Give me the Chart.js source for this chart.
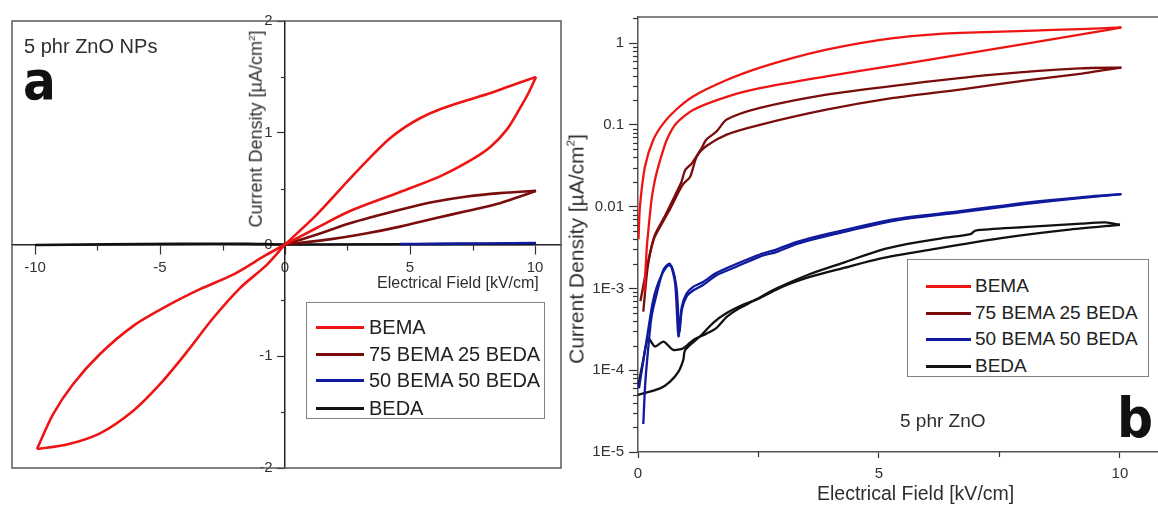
<!DOCTYPE html>
<html><head><meta charset="utf-8">
<script src="https://cdn.jsdelivr.net/npm/chart.js@4.4.1/dist/chart.umd.min.js"></script>
<style>
body{margin:0;background:#fff}
#wrap{position:relative;width:1158px;height:506px;overflow:hidden;background:#fff;font-family:"Liberation Sans",Arial,sans-serif;color:#2e2e2e}
canvas{position:absolute;top:0}
.t{position:absolute;white-space:nowrap;line-height:1}
.big{font-family:"Liberation Sans Narrow","DejaVu Sans Condensed","Arial Narrow",sans-serif;font-weight:bold;font-stretch:condensed;color:#111}
.rot{position:absolute;white-space:nowrap;line-height:1;transform:translate(-50%,-50%) rotate(-90deg)}
.leg{position:absolute;border:1px solid #808080;background:#fff;box-sizing:border-box}
.row{position:absolute;height:20px;line-height:20px;white-space:nowrap;color:#222}
.sw{position:absolute;height:3px}
sup{font-size:55%;vertical-align:0.75em}
</style></head><body>
<div id="wrap">
<canvas id="ca" width="580" height="506" style="left:0"></canvas>
<canvas id="cb" width="578" height="506" style="left:580px"></canvas>
<div class="t" style="left:24px;top:36px;font-size:20px">5 phr ZnO NPs</div>
<div class="t big" style="left:23px;top:54px;font-size:54px">a</div>
<div class="rot" style="left:255.5px;top:129px;font-size:18px">Current Density [µA/cm<sup>2</sup>]</div>
<div class="t" style="left:377px;top:275px;font-size:16px">Electrical Field [kV/cm]</div>
<div class="leg" id="legA" style="left:306px;top:302px;width:239px;height:117px"></div>
<div class="rot" style="left:576px;top:249px;font-size:21px">Current Density [µA/cm<sup>2</sup>]</div>
<div class="t" style="left:817px;top:483.5px;font-size:19.5px">Electrical Field [kV/cm]</div>
<div class="t" style="left:900px;top:410.5px;font-size:19px">5 phr ZnO</div>
<div class="t big" style="left:1117px;top:390px;font-size:56px">b</div>
<div class="leg" id="legB" style="left:907px;top:259px;width:242px;height:118px"></div>
</div>
<script>
// ---------- series / legend ----------
const seriesNames = ['BEMA', '75 BEMA 25 BEDA', '50 BEMA 50 BEDA', 'BEDA'];
const seriesColors = ['#ee1414', '#7a0c0c', '#0f1a9c', '#111111'];

// ---------- panel a : linear J-E loops ----------
const aXTicks = [-10, -5, 0, 5, 10];
const aXTickLabels = ['-10', '-5', '0', '5', '10'];
const aYTicks = [-2, -1, 0, 1, 2];
const aYTickLabels = ['-2', '-1', '0', '1', '2'];
const aXMinor = [-7.5, -2.5, 2.5, 7.5];
const aYMinor = [-1.5, -0.5, 0.5, 1.5];

const aBemaOutE = [0, 1.28, 2.6, 3.5, 4.2, 4.8, 5.4, 6.2, 7.28, 8.4, 9.4, 10.04];
const aBemaOutJ = [0, 0.27, 0.59, 0.80, 0.95, 1.05, 1.13, 1.21, 1.29, 1.37, 1.45, 1.50];
const aBemaRetE = [10.04, 9.75, 9.4, 8.88, 8.2, 7.4, 6.2, 4.6, 2.6, 1.28, 0];
const aBemaRetJ = [1.50, 1.36, 1.22, 1.03, 0.87, 0.75, 0.61, 0.47, 0.30, 0.15, 0];
const aBemaNegOutE = [0, -0.8, -2.08, -3.4, -4.72, -6.08, -7.4, -8.48, -9.28, -9.92];
const aBemaNegOutJ = [0, -0.10, -0.27, -0.40, -0.55, -0.73, -0.98, -1.25, -1.52, -1.83];
const aBemaNegRetE = [-9.92, -8.72, -7.4, -6.08, -5.0, -3.92, -2.88, -1.8, -0.72, 0];
const aBemaNegRetJ = [-1.83, -1.79, -1.69, -1.49, -1.25, -0.96, -0.66, -0.39, -0.18, 0];
const a7525OutE = [0, 1.28, 2.6, 4.6, 5.92, 7.28, 8.6, 10.04];
const a7525OutJ = [0, 0.09, 0.19, 0.31, 0.38, 0.43, 0.46, 0.48];
const a7525RetE = [10.04, 9.4, 8.6, 7.28, 5.92, 4.6, 3.28, 1.92, 0];
const a7525RetJ = [0.48, 0.43, 0.37, 0.30, 0.23, 0.16, 0.10, 0.05, 0];
const a5050E = [4.6, 6.0, 8.0, 10.04];
const a5050J = [0.004, 0.006, 0.009, 0.014];
const aBedaE = [-10, -4.2, -1.5, 0, 10];
const aBedaJ = [-0.004, 0.006, 0.006, 0, 0.006];

// ---------- panel b : log J-E ----------
const bXTicks = [0, 5, 10];
const bXTickLabels = ['0', '5', '10'];
const bXMinor = [2.5, 7.5];
const bYTicks = [1e-5, 1e-4, 1e-3, 0.01, 0.1, 1];
const bYTickLabels = ['1E-5', '1E-4', '1E-3', '0.01', '0.1', '1'];

const bBemaUpE = [0.01, 0.04, 0.145, 0.32, 0.53, 0.80, 1.15, 1.84, 2.53, 3.22, 3.91, 4.61, 5.3, 6.0, 6.68, 8.06, 9.17, 10.03];
const bBemaUpJ = [0.004, 0.01, 0.031, 0.066, 0.105, 0.155, 0.224, 0.353, 0.50, 0.66, 0.83, 1.0, 1.15, 1.26, 1.33, 1.41, 1.48, 1.55];
const bBemaLoE = [0.13, 0.18, 0.21, 0.28, 0.35, 0.46, 0.6, 0.8, 1.15, 1.84, 2.53, 3.91, 5.3, 6.68, 8.06, 9.17, 9.6, 10.03];
const bBemaLoJ = [0.0009, 0.003, 0.0048, 0.012, 0.021, 0.037, 0.066, 0.105, 0.153, 0.22, 0.28, 0.39, 0.53, 0.72, 0.98, 1.27, 1.40, 1.55];
const b7525AE = [0.05, 0.2, 0.35, 0.55, 0.75, 0.9, 0.98, 1.1, 1.2, 1.32, 1.42, 1.63, 1.84, 2.53, 3.91, 5.3, 7.37, 9.17, 10.03];
const b7525AJ = [0.0007, 0.002, 0.0045, 0.0075, 0.013, 0.02, 0.028, 0.033, 0.04, 0.052, 0.066, 0.083, 0.116, 0.161, 0.234, 0.30, 0.41, 0.49, 0.50];
const b7525BE = [0.11, 0.2, 0.32, 0.46, 0.66, 0.84, 0.94, 1.08, 1.22, 1.42, 1.84, 2.53, 3.91, 5.3, 6.68, 8.06, 9.17, 9.6, 10.03];
const b7525BJ = [0.00052, 0.0018, 0.0039, 0.0057, 0.0092, 0.015, 0.019, 0.023, 0.041, 0.055, 0.076, 0.10, 0.153, 0.213, 0.27, 0.35, 0.42, 0.46, 0.50];
const b5050FE = [0.11, 0.15, 0.21, 0.28, 0.39, 0.53, 0.66, 0.77, 0.84, 0.91, 1.01, 1.15, 1.35, 1.63, 2.05, 2.53, 2.88, 3.3, 3.91, 5.3, 6.68, 8.06, 9.17, 10.03];
const b5050FJ = [2.2e-5, 6.9e-5, 1.8e-4, 4.5e-4, 8.7e-4, 1.7e-3, 2.0e-3, 1.16e-3, 2.6e-4, 6.0e-4, 8.7e-4, 1.05e-3, 1.2e-3, 1.55e-3, 2.0e-3, 2.6e-3, 3.0e-3, 3.7e-3, 4.6e-3, 7.0e-3, 8.8e-3, 1.12e-2, 1.3e-2, 1.42e-2];
const b5050RE = [10.03, 9.17, 8.06, 6.68, 5.3, 3.91, 3.3, 2.88, 2.53, 2.05, 1.63, 1.35, 1.15, 1.01, 0.91, 0.86, 0.8, 0.7, 0.62, 0.5, 0.38, 0.3, 0.2, 0.1, 0.02];
const b5050RJ = [1.42e-2, 1.27e-2, 1.08e-2, 8.5e-3, 6.7e-3, 4.35e-3, 3.5e-3, 2.8e-3, 2.45e-3, 1.85e-3, 1.45e-3, 1.1e-3, 9.5e-4, 8.0e-4, 5.5e-4, 3.0e-4, 1.0e-3, 1.85e-3, 1.9e-3, 1.5e-3, 1.0e-3, 6.5e-4, 2.8e-4, 1.2e-4, 6e-5];
const bBedaLE = [0.0, 0.46, 0.66, 0.84, 0.94, 0.98, 1.29, 1.56, 1.84, 2.2, 2.5, 3.0, 3.6, 4.3, 5.0, 6.1, 7.5, 8.9, 10.0];
const bBedaLJ = [5.0e-5, 6.0e-5, 7.2e-5, 9.6e-5, 1.34e-4, 1.77e-4, 2.6e-4, 3.8e-4, 5.0e-4, 6.4e-4, 7.5e-4, 1.05e-3, 1.4e-3, 1.8e-3, 2.3e-3, 3.0e-3, 4.1e-3, 5.2e-3, 6.0e-3];
const bBedaUE = [0.0, 0.11, 0.21, 0.35, 0.53, 0.73, 0.94, 1.15, 1.42, 1.63, 1.84, 2.05, 2.39, 2.88, 3.57, 4.3, 5.0, 5.6, 6.3, 6.9, 7.0, 8.0, 9.2, 9.7, 10.0];
const bBedaUJ = [6.3e-5, 1.34e-4, 2.46e-4, 1.95e-4, 2.24e-4, 1.77e-4, 1.86e-4, 2.35e-4, 2.8e-4, 3.3e-4, 4.5e-4, 5.5e-4, 7.0e-4, 1.0e-3, 1.5e-3, 2.1e-3, 2.9e-3, 3.5e-3, 4.1e-3, 4.6e-3, 5.1e-3, 5.6e-3, 6.2e-3, 6.4e-3, 6.0e-3];

// ---------- helpers ----------
function branch(E, J, s, w, t) {
  return { data: E.map((e, i) => ({ x: e, y: J[i] })), showLine: true, borderColor: seriesColors[s],
    backgroundColor: seriesColors[s], borderWidth: w, pointRadius: 0, tension: t, fill: false };
}
const decor = {
  id: 'decor',
  beforeDatasetsDraw(chart, args, o) {
    const { ctx, chartArea: ca } = chart;
    ctx.save();
    ctx.strokeStyle = '#5a5a5a'; ctx.lineWidth = 1.5;
    if (o.box) ctx.strokeRect(ca.left, ca.top, ca.right - ca.left, ca.bottom - ca.top);
    if (o.topLine) { ctx.beginPath(); ctx.moveTo(ca.left, ca.top); ctx.lineTo(ca.right, ca.top); ctx.stroke(); }
    ctx.restore();
  },
  afterDraw(chart, args, o) {
    const { ctx, chartArea: ca, scales } = chart;
    const xs = scales.x, ys = scales.y;
    const x0 = o.yAt != null ? xs.getPixelForValue(o.yAt) : ca.left;
    const y0 = o.xAt != null ? ys.getPixelForValue(o.xAt) : ca.bottom;
    ctx.save(); ctx.strokeStyle = '#333'; ctx.lineWidth = 1.2;
    for (const v of o.xMinor) { const p = Math.round(xs.getPixelForValue(v)) + 0.5; ctx.beginPath(); ctx.moveTo(p, y0); ctx.lineTo(p, y0 + o.xLen); ctx.stroke(); }
    for (const v of o.yMinor) { const p = Math.round(ys.getPixelForValue(v)) + 0.5; ctx.beginPath(); ctx.moveTo(x0, p); ctx.lineTo(x0 - o.yLen, p); ctx.stroke(); }
    ctx.restore();
  }
};
function legend(id, rows, lineL, lineW, textL, fs) {
  const el = document.getElementById(id);
  seriesNames.forEach((n, i) => {
    const r = document.createElement('div'); r.className = 'row';
    r.style.top = (rows[i] - 10) + 'px'; r.style.left = '0px'; r.style.width = '100%';
    r.innerHTML = '<div class="sw" style="left:' + lineL + 'px;width:' + lineW + 'px;top:8.5px;background:' + seriesColors[i] + '"></div>' +
      '<span style="position:absolute;left:' + textL + 'px;font-size:' + fs + 'px">' + n + '</span>';
    el.appendChild(r);
  });
}
legend('legA', [24, 51, 77, 105], 9, 48, 62, 20);
legend('legB', [26, 53, 79, 106], 18, 45, 67, 19);

Chart.defaults.font.family = '"Liberation Sans", Arial, sans-serif';
Chart.defaults.color = '#333';

// ---------- chart a ----------
new Chart(document.getElementById('ca'), {
  type: 'scatter',
  data: { datasets: [
    branch(aBemaOutE, aBemaOutJ, 0, 2.6, 0.3), branch(aBemaRetE, aBemaRetJ, 0, 2.6, 0.3),
    branch(aBemaNegOutE, aBemaNegOutJ, 0, 2.6, 0.3), branch(aBemaNegRetE, aBemaNegRetJ, 0, 2.6, 0.3),
    branch(a7525OutE, a7525OutJ, 1, 2.6, 0.3), branch(a7525RetE, a7525RetJ, 1, 2.6, 0.3),
    branch(a5050E, a5050J, 2, 2.6, 0.2), branch(aBedaE, aBedaJ, 3, 2.6, 0.2)
  ] },
  options: {
    responsive: false, animation: false, devicePixelRatio: 1,
    layout: { padding: { left: 12, top: 21, right: 19, bottom: 38 } },
    plugins: { legend: { display: false }, tooltip: { enabled: false },
      decor: { box: true, yAt: 0, xAt: 0, xMinor: aXMinor, yMinor: aYMinor, xLen: 6, yLen: 4 } },
    scales: {
      x: { type: 'linear', min: -10.92, max: 11.04, position: { y: 0 },
        afterBuildTicks: s => { s.ticks = aXTicks.map(v => ({ value: v })); },
        ticks: { font: { size: 15 }, color: '#333', padding: 5, maxRotation: 0, autoSkip: false, callback: (v, i) => aXTickLabels[i] },
        grid: { drawOnChartArea: false, drawTicks: true, tickLength: 9, tickColor: '#333', tickWidth: 1.2 },
        border: { display: true, color: '#222', width: 1.5 } },
      y: { type: 'linear', min: -2, max: 2, position: { x: 0 },
        afterBuildTicks: s => { s.ticks = aYTicks.map(v => ({ value: v })); },
        // labels of a centred axis sit on the axis line: trailing spaces push them left of it
        ticks: { font: { size: 15 }, color: '#333', padding: 5, autoSkip: false, callback: (v, i) => aYTickLabels[i] + '   ' },
        grid: { drawOnChartArea: false, drawTicks: true, tickLength: 7, tickColor: '#333', tickWidth: 1.2 },
        border: { display: true, color: '#222', width: 1.5 } }
    }
  },
  plugins: [decor]
});

// ---------- chart b ----------
new Chart(document.getElementById('cb'), {
  type: 'scatter',
  data: { datasets: [
    branch(bBemaUpE, bBemaUpJ, 0, 2.3, 0.25), branch(bBemaLoE, bBemaLoJ, 0, 2.3, 0.25),
    branch(b7525AE, b7525AJ, 1, 2.3, 0.25), branch(b7525BE, b7525BJ, 1, 2.3, 0.25),
    branch(b5050FE, b5050FJ, 2, 2.3, 0.25), branch(b5050RE, b5050RJ, 2, 2.3, 0.25),
    branch(bBedaLE, bBedaLJ, 3, 2.3, 0.25), branch(bBedaUE, bBedaUJ, 3, 2.3, 0.25)
  ] },
  options: {
    responsive: false, animation: false, devicePixelRatio: 1,
    layout: { padding: { left: 0, top: 17, right: 0, bottom: 0 } },
    plugins: { legend: { display: false }, tooltip: { enabled: false },
      decor: { topLine: true, xMinor: bXMinor,
        yMinor: [-5, -4, -3, -2, -1, 0].flatMap(e => [2, 3, 4, 5, 6, 7, 8, 9].map(k => k * Math.pow(10, e))).filter(v => v <= 2.08),
        xLen: 5, yLen: 5 } },
    scales: {
      x: { type: 'linear', min: 0, max: 10.79, position: 'bottom',
        afterFit: s => { s.height = 54; },
        afterBuildTicks: s => { s.ticks = bXTicks.map(v => ({ value: v })); },
        ticks: { font: { size: 15 }, color: '#333', padding: 7, maxRotation: 0, autoSkip: false, callback: (v, i) => bXTickLabels[i] },
        grid: { drawOnChartArea: false, drawTicks: true, tickLength: 6, tickColor: '#333', tickWidth: 1.2 },
        border: { display: true, color: '#555', width: 1.5 } },
      y: { type: 'logarithmic', min: 1e-5, max: 2.08, position: 'left',
        afterFit: s => { s.width = 58; },
        afterBuildTicks: s => { s.ticks = bYTicks.map(v => ({ value: v })); },
        ticks: { font: { size: 15 }, color: '#333', padding: 5, autoSkip: false, callback: (v, i) => bYTickLabels[i] },
        grid: { drawOnChartArea: false, drawTicks: true, tickLength: 9, tickColor: '#333', tickWidth: 1.2 },
        border: { display: true, color: '#555', width: 1.5 } }
    }
  },
  plugins: [decor]
});
</script>
</body></html>
